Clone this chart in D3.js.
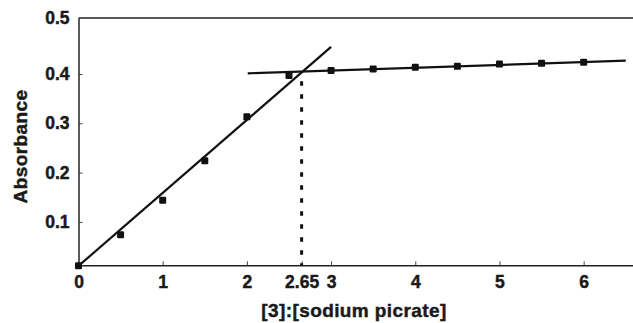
<!DOCTYPE html>
<html>
<head>
<meta charset="utf-8">
<script src="https://cdn.jsdelivr.net/npm/d3@7"></script>
<style>
  html, body { margin: 0; padding: 0; background: #fff; }
  svg { display: block; }
  text { font-family: "Liberation Sans", Arial, Helvetica, sans-serif; font-weight: bold; fill: #1a1a1a; stroke: #1a1a1a; stroke-width: 0.45px; }
</style>
</head>
<body>
<svg id="chart" width="633" height="323"></svg>
<script>
// ---- data ----
const ratio = [0, 0.5, 1, 1.5, 2, 2.5, 3, 3.5, 4, 4.5, 5, 5.5, 6];
const absorbance = [0.011, 0.074, 0.144, 0.224, 0.313, 0.397, 0.407, 0.410, 0.4135, 0.4155, 0.420, 0.4215, 0.424];
const fit1X = [0, 3.0];
const fit1Y = [0.0107, 0.455];
const fit2X = [2.01, 6.50];
const fit2Y = [0.4014, 0.4269];
const breakX = 2.65;
const breakY = [0.385, 0.012];
const xTickValues = [0, 1, 2, 2.65, 3, 4, 5, 6];
const xTickLabels = ["0", "1", "2", "2.65", "3", "4", "5", "6"];
const yDomain = [0.012, 0.5135];
const yTickValues = [0.1, 0.2, 0.3, 0.4, 0.5135];
const yTickLabels = ["0.1", "0.2", "0.3", "0.4", "0.5"];
const xDomain = [0, 6.586];
const xTitle = "[3]:[sodium picrate]";
const yTitle = "Absorbance";

(function () {
// ---- layout ----
const svg = d3.select("#chart");
const mLeft = 78.5, mRight = 633, mTop = 18, mBottom = 265.3;

const x = d3.scaleLinear().domain(xDomain).range([mLeft, mRight]);
const y = d3.scaleLinear().domain(yDomain).range([mBottom, mTop]);

// top border
svg.append("line")
  .attr("x1", mLeft).attr("x2", mRight)
  .attr("y1", y(yDomain[1])).attr("y2", y(yDomain[1]))
  .attr("stroke", "#222").attr("stroke-width", 1.5);

// axes
const xAxis = d3.axisBottom(x)
  .tickValues(xTickValues)
  .tickFormat((d, i) => xTickLabels[i])
  .tickSizeInner(-4).tickSizeOuter(0).tickPadding(10);
const gx = svg.append("g").attr("transform", `translate(0,${mBottom})`).call(xAxis);

const yAxis = d3.axisLeft(y)
  .tickValues(yTickValues)
  .tickFormat((d, i) => yTickLabels[i])
  .tickSizeInner(-4).tickSizeOuter(0).tickPadding(9);
const gy = svg.append("g").attr("transform", `translate(${mLeft},0)`).call(yAxis);

[gx, gy].forEach(g => {
  g.select(".domain").attr("stroke", "#222").attr("stroke-width", 1.5);
  g.selectAll(".tick line").attr("stroke", "#444").attr("stroke-width", 1);
  g.selectAll(".tick text")
    .attr("font-family", "'Liberation Sans', Arial, sans-serif")
    .attr("font-weight", "bold")
    .attr("font-size", 17.5)
    .attr("fill", "#1a1a1a")
    .attr("stroke", "#1a1a1a")
    .attr("stroke-width", 0.45);
});
gx.selectAll(".tick").filter(d => d === 0).select("line").remove();
gy.selectAll(".tick").filter(d => d === yDomain[1]).select("line").remove();

// dashed drop line
svg.append("line")
  .attr("x1", x(breakX)).attr("x2", x(breakX))
  .attr("y1", y(breakY[0])).attr("y2", y(breakY[1]))
  .attr("stroke", "#111").attr("stroke-width", 3)
  .attr("stroke-dasharray", "4.5,8.5");

// fit lines
const lineGen = d3.line().x(d => x(d[0])).y(d => y(d[1]));
svg.append("path")
  .attr("d", lineGen(d3.zip(fit1X, fit1Y)))
  .attr("fill", "none").attr("stroke", "#111").attr("stroke-width", 2.2);
svg.append("path")
  .attr("d", lineGen(d3.zip(fit2X, fit2Y)))
  .attr("fill", "none").attr("stroke", "#111").attr("stroke-width", 2.2);

// markers
const ms = 7;
svg.append("g").selectAll("rect")
  .data(d3.zip(ratio, absorbance))
  .join("rect")
  .attr("x", d => x(d[0]) - ms / 2)
  .attr("y", d => y(d[1]) - ms / 2)
  .attr("width", ms).attr("height", ms)
  .attr("rx", 1.2)
  .attr("fill", "#111");

// titles
svg.append("text")
  .attr("x", 354).attr("y", 317)
  .attr("text-anchor", "middle")
  .attr("font-size", 19)
  .attr("letter-spacing", 0.4)
  .text(xTitle);

svg.append("text")
  .attr("transform", "translate(27,146.5) rotate(-90)")
  .attr("text-anchor", "middle")
  .attr("font-size", 19)
  .attr("letter-spacing", 0.4)
  .text(yTitle);
})();
</script>
</body>
</html>
